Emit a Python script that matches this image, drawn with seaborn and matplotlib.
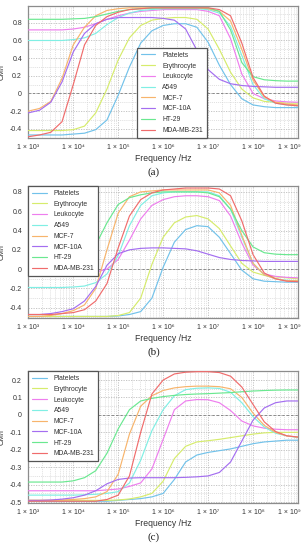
import numpy as np
import pandas as pd
import matplotlib
matplotlib.use("Agg")
import matplotlib.pyplot as plt
import matplotlib.transforms as mtransforms
import seaborn as sns
from matplotlib.ticker import FixedLocator, LogLocator, MultipleLocator, NullFormatter

# ---------------- data ----------------
CELLS = ["Platelets", "Erythrocyte", "Leukocyte", "A549", "MCF-7", "MCF-10A", "HT-29", "MDA-MB-231"]
COLORS = ["#72c2ea", "#d6ec6c", "#ee7eee", "#80efe4", "#f7b46c", "#a46ef0", "#6ae890", "#f06c6c"]

# frequency exponents (log10 Hz), quarter-decade steps from 1e3 to 1e9
FREQ_EXP = [3.0, 3.25, 3.5, 3.75, 4.0, 4.25, 4.5, 4.75, 5.0, 5.25, 5.5, 5.75, 6.0,
            6.25, 6.5, 6.75, 7.0, 7.25, 7.5, 7.75, 8.0, 8.25, 8.5, 8.75, 9.0]

# panel (a)
A_PLATELETS = [-0.47, -0.47, -0.47, -0.47, -0.46, -0.45, -0.41, -0.30, -0.02, 0.30, 0.57, 0.71, 0.77,
               0.79, 0.79, 0.75, 0.58, 0.32, 0.10, -0.06, -0.13, -0.15, -0.16, -0.16, -0.16]
A_ERYTHRO = [-0.42, -0.42, -0.42, -0.42, -0.41, -0.37, -0.22, 0.05, 0.38, 0.63, 0.77, 0.83, 0.85,
             0.86, 0.86, 0.84, 0.73, 0.50, 0.24, 0.05, -0.05, -0.09, -0.10, -0.11, -0.11]
A_LEUKO = [0.72, 0.72, 0.72, 0.72, 0.73, 0.75, 0.79, 0.84, 0.88, 0.91, 0.93, 0.94, 0.95,
           0.95, 0.95, 0.95, 0.93, 0.88, 0.62, 0.22, 0.00, -0.06, -0.085, -0.095, -0.10]
A_A549 = [0.60, 0.60, 0.60, 0.60, 0.61, 0.63, 0.68, 0.78, 0.86, 0.91, 0.94, 0.95, 0.96,
          0.96, 0.96, 0.96, 0.95, 0.91, 0.76, 0.43, 0.10, -0.06, -0.11, -0.13, -0.14]
A_MCF7 = [-0.20, -0.17, -0.09, 0.17, 0.55, 0.75, 0.88, 0.94, 0.96, 0.97, 0.97, 0.97, 0.97,
          0.97, 0.97, 0.97, 0.96, 0.93, 0.82, 0.50, 0.15, -0.04, -0.10, -0.12, -0.13]
A_MCF10A = [-0.22, -0.19, -0.10, 0.13, 0.47, 0.68, 0.79, 0.84, 0.86, 0.86, 0.86, 0.86, 0.85,
            0.83, 0.73, 0.49, 0.27, 0.16, 0.11, 0.09, 0.08, 0.075, 0.07, 0.07, 0.07]
A_HT29 = [0.84, 0.84, 0.84, 0.84, 0.845, 0.85, 0.87, 0.90, 0.93, 0.95, 0.96, 0.965, 0.97,
          0.97, 0.97, 0.97, 0.97, 0.93, 0.72, 0.35, 0.19, 0.155, 0.145, 0.14, 0.14]
A_MDA = [-0.49, -0.47, -0.44, -0.32, 0.10, 0.55, 0.77, 0.87, 0.92, 0.95, 0.96, 0.97, 0.97,
         0.97, 0.97, 0.97, 0.97, 0.95, 0.88, 0.57, 0.18, -0.03, -0.11, -0.13, -0.14]

# panel (b)
B_PLATELETS = [-0.49, -0.49, -0.49, -0.49, -0.49, -0.49, -0.49, -0.49, -0.485, -0.47, -0.44, -0.30, 0.02,
               0.28, 0.41, 0.45, 0.44, 0.33, 0.16, -0.01, -0.10, -0.125, -0.13, -0.135, -0.135]
B_ERYTHRO = [-0.49, -0.49, -0.49, -0.49, -0.49, -0.49, -0.49, -0.49, -0.48, -0.45, -0.30, 0.05, 0.33,
             0.48, 0.54, 0.555, 0.52, 0.42, 0.24, 0.06, -0.03, -0.065, -0.08, -0.09, -0.10]
B_LEUKO = [-0.06, -0.06, -0.06, -0.06, -0.055, -0.05, -0.03, 0.00, 0.10, 0.30, 0.52, 0.66, 0.72,
           0.75, 0.76, 0.76, 0.75, 0.71, 0.55, 0.27, 0.04, -0.05, -0.075, -0.085, -0.09]
B_A549 = [-0.19, -0.19, -0.19, -0.19, -0.185, -0.175, -0.14, -0.05, 0.14, 0.45, 0.66, 0.76, 0.79,
          0.80, 0.80, 0.80, 0.80, 0.76, 0.62, 0.33, 0.06, -0.06, -0.10, -0.115, -0.12]
B_MCF7 = [-0.49, -0.49, -0.48, -0.46, -0.43, -0.37, -0.20, 0.20, 0.58, 0.75, 0.80, 0.81, 0.82,
          0.82, 0.82, 0.82, 0.82, 0.79, 0.66, 0.35, 0.06, -0.06, -0.10, -0.12, -0.12]
B_MCF10A = [-0.47, -0.47, -0.46, -0.44, -0.41, -0.33, -0.18, 0.04, 0.16, 0.20, 0.215, 0.22, 0.22,
            0.215, 0.21, 0.19, 0.155, 0.12, 0.10, 0.09, 0.085, 0.08, 0.08, 0.08, 0.08]
B_HT29 = [0.15, 0.15, 0.15, 0.15, 0.155, 0.17, 0.25, 0.48, 0.67, 0.74, 0.77, 0.79, 0.80,
          0.80, 0.80, 0.80, 0.79, 0.75, 0.62, 0.40, 0.23, 0.17, 0.155, 0.15, 0.15]
B_MDA = [-0.47, -0.47, -0.47, -0.46, -0.45, -0.42, -0.33, -0.15, 0.22, 0.55, 0.72, 0.79, 0.82,
         0.83, 0.84, 0.84, 0.84, 0.83, 0.76, 0.50, 0.15, -0.04, -0.10, -0.125, -0.13]

# panel (c)
C_PLATELETS = [-0.495, -0.495, -0.495, -0.495, -0.495, -0.495, -0.495, -0.495, -0.49, -0.485, -0.48, -0.47, -0.45,
               -0.37, -0.27, -0.23, -0.215, -0.205, -0.195, -0.18, -0.165, -0.155, -0.15, -0.145, -0.145]
C_ERYTHRO = [-0.49, -0.49, -0.49, -0.49, -0.49, -0.49, -0.49, -0.49, -0.488, -0.482, -0.47, -0.45, -0.38,
             -0.25, -0.18, -0.155, -0.148, -0.14, -0.13, -0.12, -0.11, -0.103, -0.10, -0.10, -0.10]
C_LEUKO = [-0.435, -0.435, -0.435, -0.435, -0.435, -0.435, -0.435, -0.43, -0.425, -0.41, -0.39, -0.31, -0.14,
           0.03, 0.08, 0.088, 0.087, 0.07, 0.025, -0.035, -0.063, -0.076, -0.082, -0.085, -0.085]
C_A549 = [-0.46, -0.46, -0.46, -0.46, -0.46, -0.458, -0.455, -0.45, -0.44, -0.39, -0.26, -0.09, 0.03,
          0.11, 0.145, 0.153, 0.155, 0.152, 0.13, 0.07, -0.01, -0.07, -0.105, -0.12, -0.13]
C_MCF7 = [-0.49, -0.49, -0.49, -0.488, -0.485, -0.48, -0.47, -0.44, -0.34, -0.11, 0.05, 0.11, 0.14,
          0.155, 0.162, 0.165, 0.165, 0.162, 0.15, 0.10, 0.01, -0.06, -0.10, -0.12, -0.127]
C_MCF10A = [-0.49, -0.49, -0.488, -0.483, -0.475, -0.46, -0.435, -0.395, -0.37, -0.362, -0.36, -0.36, -0.36,
            -0.36, -0.358, -0.355, -0.35, -0.33, -0.27, -0.15, -0.03, 0.04, 0.07, 0.08, 0.08]
C_HT29 = [-0.385, -0.385, -0.385, -0.385, -0.378, -0.36, -0.32, -0.22, -0.08, 0.03, 0.08, 0.095, 0.105,
          0.112, 0.117, 0.12, 0.122, 0.125, 0.128, 0.133, 0.137, 0.14, 0.142, 0.143, 0.143]
C_MDA = [-0.495, -0.495, -0.495, -0.495, -0.495, -0.495, -0.495, -0.485, -0.46, -0.35, -0.10, 0.12, 0.20,
         0.235, 0.245, 0.248, 0.248, 0.243, 0.222, 0.16, 0.06, -0.04, -0.095, -0.12, -0.127]

PANELS = {
    "(a)": [A_PLATELETS, A_ERYTHRO, A_LEUKO, A_A549, A_MCF7, A_MCF10A, A_HT29, A_MDA],
    "(b)": [B_PLATELETS, B_ERYTHRO, B_LEUKO, B_A549, B_MCF7, B_MCF10A, B_HT29, B_MDA],
    "(c)": [C_PLATELETS, C_ERYTHRO, C_LEUKO, C_A549, C_MCF7, C_MCF10A, C_HT29, C_MDA],
}
YLIMS = {"(a)": (-0.505, 0.99), "(b)": (-0.505, 0.862), "(c)": (-0.505, 0.252)}
YTICKS = {"(a)": [-0.4, -0.2, 0, 0.2, 0.4, 0.6, 0.8],
          "(b)": [-0.4, -0.2, 0, 0.2, 0.4, 0.6, 0.8],
          "(c)": [-0.5, -0.4, -0.3, -0.2, -0.1, 0, 0.1, 0.2]}
XTICK_EXP = [3, 4, 5, 6, 7, 8, 9]
SUP = {3: "³", 4: "⁴", 5: "⁵", 6: "⁶", 7: "⁷", 8: "⁸", 9: "⁹"}

# ---------------- drawing ----------------
sns.set_style("white")
plt.rcParams["font.family"] = ["Liberation Sans", "DejaVu Sans"]

fig = plt.figure(figsize=(3.07, 5.5), dpi=100)
positions = {"(a)": [0.0922, 0.749, 0.8785, 0.24],
             "(b)": [0.0922, 0.422, 0.8785, 0.24],
             "(c)": [0.0922, 0.0855, 0.8785, 0.24]}
label_y = {"(a)": 1 - 172 / 550, "(b)": 1 - 352 / 550, "(c)": 1 - 537 / 550}

freq = [10 ** e for e in FREQ_EXP]
palette = dict(zip(CELLS, COLORS))

for key, series in PANELS.items():
    ax = fig.add_axes(positions[key])
    rows = []
    for cell, vals in zip(CELLS, series):
        for f, v in zip(freq, vals):
            rows.append({"freq": f, "cm": v, "cell": cell})
    df = pd.DataFrame(rows)
    sns.lineplot(data=df, x="freq", y="cm", hue="cell", hue_order=CELLS, palette=palette,
                 linewidth=0.85, ax=ax, legend=False, zorder=3)
    ax.set_xscale("log")
    ax.set_xlim(1e3, 1e9)
    ax.set_ylim(*YLIMS[key])

    ax.xaxis.set_major_locator(FixedLocator([10 ** e for e in XTICK_EXP]))
    ax.set_xticklabels([f"1 × 10{SUP[e]}" for e in XTICK_EXP])
    ax.xaxis.set_minor_locator(LogLocator(base=10, subs=np.arange(2, 10)))
    ax.xaxis.set_minor_formatter(NullFormatter())
    ax.set_yticks(YTICKS[key])
    ax.set_yticklabels(["0" if t == 0 else f"{t:g}" for t in YTICKS[key]])
    step = YTICKS[key][1] - YTICKS[key][0]
    ax.yaxis.set_minor_locator(MultipleLocator(step / 2))

    ax.grid(True, which="major", color="#bdbdbd", linestyle=(0, (1.5, 1.5)), linewidth=0.6, zorder=0)
    ax.grid(True, which="minor", color="#d4d4d4", linestyle=(0, (1.5, 1.5)), linewidth=0.5, zorder=0)
    ax.axhline(0, color="#8a8a8a", linestyle=(0, (2.5, 2)), linewidth=0.7, zorder=1)

    ax.tick_params(which="both", length=0, labelsize=5.0, colors="#333333", pad=4.5)
    for s in ax.spines.values():
        s.set_color("#8c8c8c")
        s.set_linewidth(0.9)

    # keep the right-most frequency label inside the figure
    last = ax.get_xticklabels()[-1]
    last.set_transform(last.get_transform() +
                       mtransforms.ScaledTranslation(-6 / 72, 0, fig.dpi_scale_trans))

    ax.set_xlabel("Frequency /Hz", fontsize=6.2, color="#333333", labelpad=2)
    ax.set_ylabel("CM/f", fontsize=5.6, color="#333333", labelpad=3)

    handles = [plt.Line2D([], [], color=c, linewidth=0.85) for c in COLORS]
    if key == "(a)":
        leg = ax.legend(handles, CELLS, loc="lower left", bbox_to_anchor=(0.403, 0.0),
                        borderaxespad=0, fontsize=4.9, frameon=True, fancybox=False,
                        handlelength=2.1, handletextpad=1.0, labelspacing=0.55,
                        borderpad=0.6)
    else:
        leg = ax.legend(handles, CELLS, loc="upper left", bbox_to_anchor=(0.0, 1.0),
                        borderaxespad=0, fontsize=4.9, frameon=True, fancybox=False,
                        handlelength=2.1, handletextpad=1.0, labelspacing=0.55,
                        borderpad=0.6)
    leg.get_frame().set_edgecolor("#555555")
    leg.get_frame().set_linewidth(0.9)
    leg.get_frame().set_facecolor("white")
    leg.get_frame().set_alpha(1)
    leg.set_zorder(5)
    for t in leg.get_texts():
        t.set_color("#333333")

    fig.text(0.5, label_y[key], key, ha="center", va="center", fontsize=8,
             family=["Liberation Serif", "DejaVu Serif"], color="#222222")

fig.savefig("out.png", dpi=100)
